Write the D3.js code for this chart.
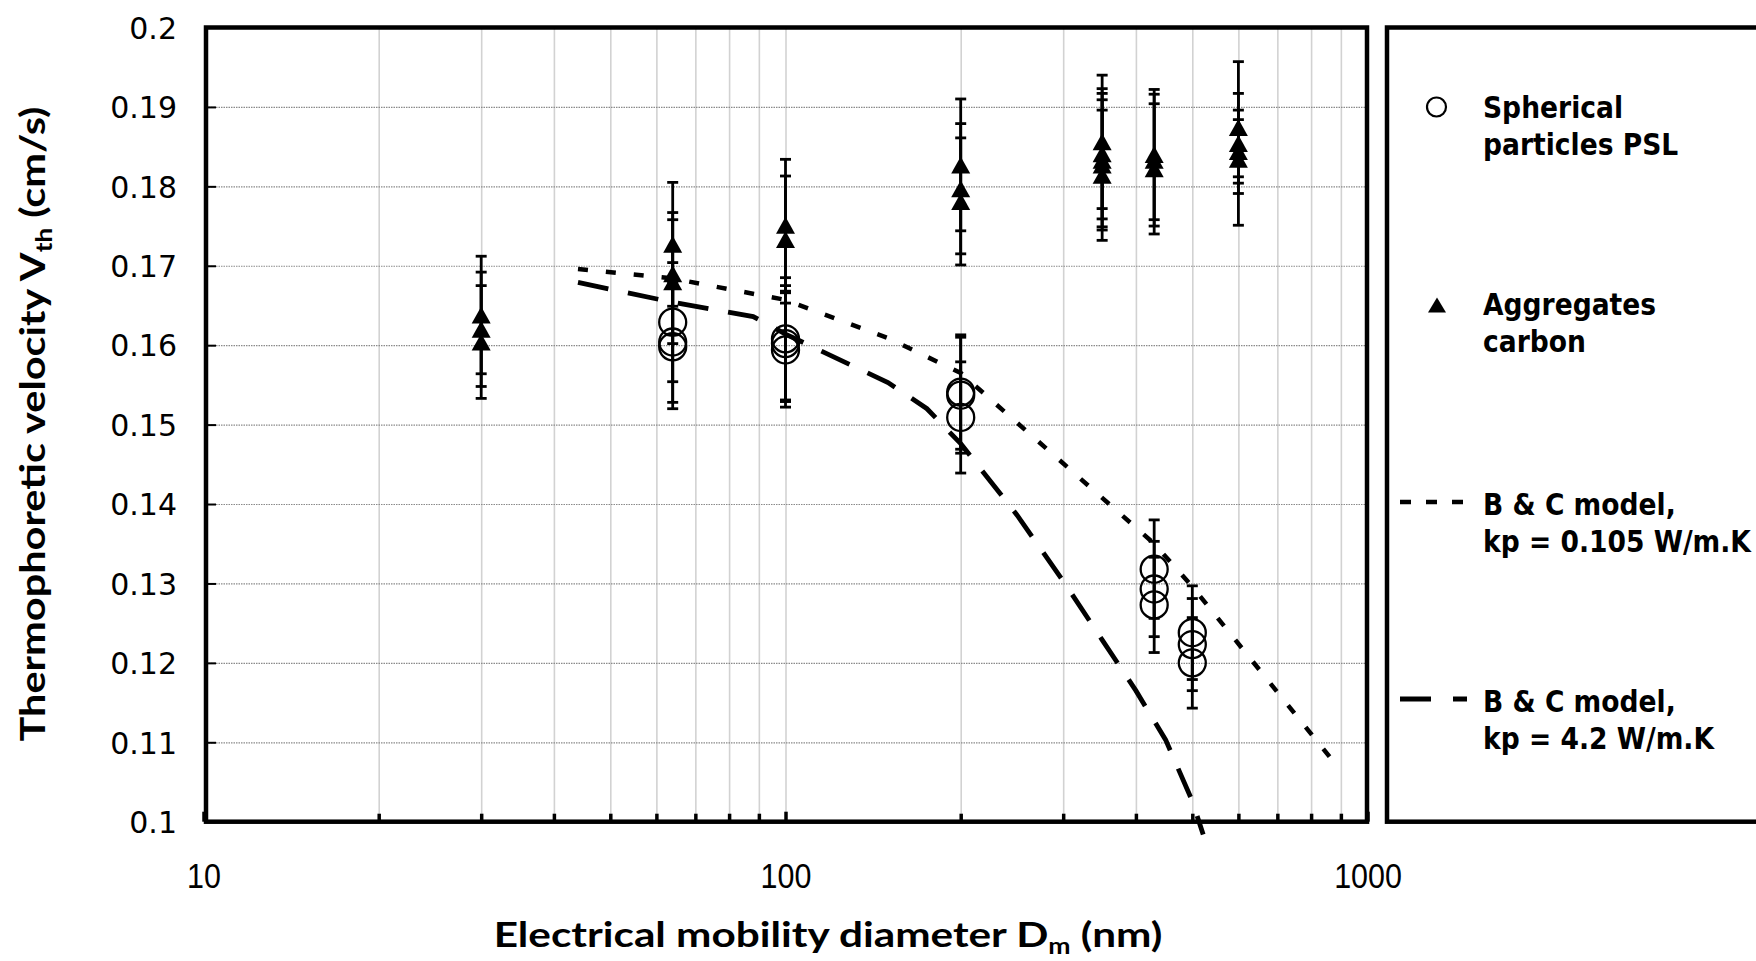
<!DOCTYPE html>
<html><head><meta charset="utf-8">
<script src="https://cdn.jsdelivr.net/npm/d3@7"></script>
<style>html,body{margin:0;padding:0;background:#fff;} svg{display:block;}</style>
</head><body>
<svg id="chart" width="1756" height="961"></svg>
<script>
// ---------- data ----------
const xTickValues = [10, 100, 1000];
const xMinorValues = [20, 30, 40, 50, 60, 70, 80, 90, 200, 300, 400, 500, 600, 700, 800, 900];
const yTickValues = [0.1, 0.11, 0.12, 0.13, 0.14, 0.15, 0.16, 0.17, 0.18, 0.19, 0.2];
const yTickLabels = ["0.1", "0.11", "0.12", "0.13", "0.14", "0.15", "0.16", "0.17", "0.18", "0.19", "0.2"];

// Spherical particles PSL
const pslDiameter = [64, 64, 64, 100, 100, 100, 200, 200, 200, 430, 430, 430, 500, 500, 500];
const pslVelocity = [0.1629, 0.1604, 0.1598, 0.1608, 0.1602, 0.1594, 0.1541, 0.1537, 0.1509, 0.1318, 0.1293, 0.1273, 0.1238, 0.1223, 0.1200];
const pslError    = [0.0075, 0.0076, 0.0078, 0.0077, 0.0073, 0.0072, 0.0072, 0.0073, 0.0070, 0.0062, 0.0060, 0.0060, 0.0059, 0.0058, 0.0057];

// Aggregates carbon
const aggDiameter = [30, 30, 30, 64, 64, 64, 100, 100, 200, 200, 200, 350, 350, 350, 350, 350, 430, 430, 430, 600, 600, 600, 600];
const aggVelocity = [0.1638, 0.1620, 0.1604, 0.1727, 0.1690, 0.1680, 0.1751, 0.1733, 0.1827, 0.1797, 0.1781, 0.1856, 0.1841, 0.1833, 0.1827, 0.1814, 0.1840, 0.1833, 0.1822, 0.1874, 0.1854, 0.1844, 0.1834];
const aggError    = [0.0074, 0.0072, 0.0071, 0.0078, 0.0077, 0.0078, 0.0083, 0.0080, 0.0083, 0.0082, 0.0080, 0.0084, 0.0082, 0.0084, 0.0082, 0.0082, 0.0082, 0.0083, 0.0082, 0.0083, 0.0042, 0.0040, 0.0083];

// B & C model, kp = 0.105 W/m.K
const modelLowKpDiameter = [44, 64, 100, 150, 200, 430, 500, 880];
const modelLowKpVelocity = [0.1696, 0.1684, 0.1657, 0.1609, 0.1565, 0.1350, 0.1296, 0.1073];
// B & C model, kp = 4.2 W/m.K
const modelHighKpDiameter = [44, 64, 88, 100, 150, 175, 200, 250, 300, 350, 400, 450, 500, 522];
const modelHighKpVelocity = [0.1679, 0.1654, 0.1636, 0.1614, 0.1553, 0.1520, 0.1476, 0.1386, 0.1303, 0.1229, 0.1165, 0.1103, 0.1026, 0.0984];

const legendLabels = [["Spherical", "particles PSL"], ["Aggregates", "carbon"], ["B & C model,", "kp = 0.105 W/m.K"], ["B & C model,", "kp = 4.2 W/m.K"]];
const xTitle = {main: "Electrical mobility diameter D", sub: "m", tail: " (nm)"};
const yTitle = {main: "Thermophoretic velocity V", sub: "th", tail: " (cm/s)"};

// ---------- layout ----------
const L = 206, R = 1367, T = 27.5, B = 821.7;
const svg = d3.select("#chart");
const x = d3.scaleLog().domain([10, 1000]).range([203.5, 1367.5]);
const y = d3.scaleLinear().domain([0.1, 0.2]).range([B, T]);

// vertical grid lines
svg.append("g").attr("transform", `translate(0,${B})`)
  .call(d3.axisBottom(x).tickValues(xMinorValues.concat([100])).tickSize(-(B - T)).tickFormat(""))
  .call(g => g.select(".domain").remove())
  .call(g => g.selectAll(".tick line").attr("stroke", "#d2d2d2").attr("stroke-width", 1.6));

// horizontal grid lines
svg.append("g").attr("transform", `translate(${L},0)`)
  .call(d3.axisLeft(y).tickValues(yTickValues.slice(1, -1)).tickSize(-(R - L)).tickFormat(""))
  .call(g => g.select(".domain").remove())
  .call(g => g.selectAll(".tick line").attr("stroke", "#8a8a8a").attr("stroke-width", 1.2).attr("stroke-dasharray", "1.5,1"));

// y axis
svg.append("g").attr("transform", `translate(${L},0)`)
  .call(d3.axisLeft(y).tickValues(yTickValues).tickFormat((d, i) => yTickLabels[i]).tickSize(-10).tickPadding(29))
  .call(g => g.select(".domain").remove())
  .call(g => g.selectAll(".tick line").attr("stroke", "#000").attr("stroke-width", 2))
  .call(g => g.selectAll(".tick text").attr("font-family", "DejaVu Sans").attr("font-size", 30).attr("fill", "#000").attr("dy", "0.36em"));

// x axis minor ticks
svg.append("g").attr("transform", `translate(0,${B})`)
  .call(d3.axisBottom(x).tickValues(xMinorValues).tickSize(-8).tickFormat(""))
  .call(g => g.select(".domain").remove())
  .call(g => g.selectAll(".tick line").attr("stroke", "#000").attr("stroke-width", 3.5));

// x axis major
svg.append("g").attr("transform", `translate(0,${B})`)
  .call(d3.axisBottom(x).tickValues(xTickValues).tickFormat(d3.format("d")).tickSize(-10).tickPadding(41.5))
  .call(g => g.select(".domain").remove())
  .call(g => g.selectAll(".tick line").attr("stroke", "#000").attr("stroke-width", 3.5))
  .call(g => g.selectAll(".tick text").attr("font-family", "Liberation Sans").attr("font-size", 35).attr("fill", "#000").attr("transform", "scale(0.87,1)"));

// plot frame
svg.append("rect").attr("x", L).attr("y", T).attr("width", R - L).attr("height", B - T)
  .attr("fill", "none").attr("stroke", "#000").attr("stroke-width", 4.5);

// ---------- series ----------
const psl = pslDiameter.map((d, i) => ({d, v: pslVelocity[i], e: pslError[i]}));
const agg = aggDiameter.map((d, i) => ({d, v: aggVelocity[i], e: aggError[i]}));

function errorBars(data) {
  const g = svg.append("g").attr("stroke", "#000").attr("stroke-width", 2.8);
  data.forEach(p => {
    const cx = x(p.d), y1 = y(p.v + p.e), y2 = y(p.v - p.e);
    g.append("line").attr("x1", cx).attr("x2", cx).attr("y1", y1).attr("y2", y2);
    g.append("line").attr("x1", cx - 5.5).attr("x2", cx + 5.5).attr("y1", y1).attr("y2", y1);
    g.append("line").attr("x1", cx - 5.5).attr("x2", cx + 5.5).attr("y1", y2).attr("y2", y2);
  });
}
errorBars(psl);
errorBars(agg);

svg.append("g").selectAll("circle").data(psl).join("circle")
  .attr("cx", p => x(p.d)).attr("cy", p => y(p.v)).attr("r", 13.5)
  .attr("fill", "none").attr("stroke", "#000").attr("stroke-width", 2.3);

const tri = (w, h) => `M0,${-h / 2}L${w / 2},${h / 2}L${-w / 2},${h / 2}Z`;
svg.append("g").selectAll("path").data(agg).join("path")
  .attr("transform", p => `translate(${x(p.d)},${y(p.v)})`)
  .attr("d", tri(19, 17)).attr("fill", "#000");

const line = d3.line().x(p => x(p[0])).y(p => y(p[1]));
svg.append("path").datum(modelLowKpDiameter.map((d, i) => [d, modelLowKpVelocity[i]]))
  .attr("d", line).attr("fill", "none").attr("stroke", "#000").attr("stroke-width", 4.5)
  .attr("stroke-dasharray", "10,18");
svg.append("path").datum(modelHighKpDiameter.map((d, i) => [d, modelHighKpVelocity[i]]))
  .attr("d", line).attr("fill", "none").attr("stroke", "#000").attr("stroke-width", 4.8)
  .attr("stroke-dasharray", "31,20");

// ---------- legend ----------
svg.append("rect").attr("x", 1387).attr("y", T).attr("width", 500).attr("height", B - T)
  .attr("fill", "none").attr("stroke", "#000").attr("stroke-width", 4.5);

const legBase = [[118, 155], [315, 352], [515, 552], [712, 749]];
const lg = svg.append("g");
const legTexts = [];
legendLabels.forEach((lines, i) => {
  lines.forEach((s, j) => {
    const t = lg.append("text").attr("font-family", "DejaVu Sans").attr("font-weight", "bold")
      .attr("font-size", 31).attr("fill", "#000").text(s);
    legTexts.push({t, y: legBase[i][j]});
  });
});
const refW = legTexts[5].t.node().getComputedTextLength();
const legScale = 268 / refW;
legTexts.forEach(o => o.t.attr("transform", `translate(1483,${o.y}) scale(${legScale},1)`));

lg.append("circle").attr("cx", 1436.5).attr("cy", 107).attr("r", 9.5).attr("fill", "none").attr("stroke", "#000").attr("stroke-width", 2.2);
lg.append("path").attr("transform", "translate(1437,305)").attr("d", tri(18, 15)).attr("fill", "#000");
lg.append("line").attr("x1", 1400).attr("x2", 1467).attr("y1", 502).attr("y2", 502)
  .attr("stroke", "#000").attr("stroke-width", 4.5).attr("stroke-dasharray", "11,15");
lg.append("line").attr("x1", 1400).attr("x2", 1467).attr("y1", 699).attr("y2", 699)
  .attr("stroke", "#000").attr("stroke-width", 4.8).attr("stroke-dasharray", "31,22");

// ---------- axis titles ----------
function title(spec, transformBase, target) {
  const t = svg.append("text").attr("font-family", "Lato").attr("font-weight", "bold")
    .attr("font-size", 35).attr("fill", "#000").attr("text-anchor", "middle");
  t.append("tspan").text(spec.main);
  t.append("tspan").attr("font-size", 22).attr("dy", 7).text(spec.sub);
  t.append("tspan").attr("dy", -7).text(spec.tail);
  const w = t.node().getComputedTextLength();
  t.attr("transform", `${transformBase} scale(${target / w},1)`);
}
title(xTitle, "translate(828,947)", 669);
title(yTitle, "translate(45,424) rotate(-90)", 635);
</script>
</body></html>
